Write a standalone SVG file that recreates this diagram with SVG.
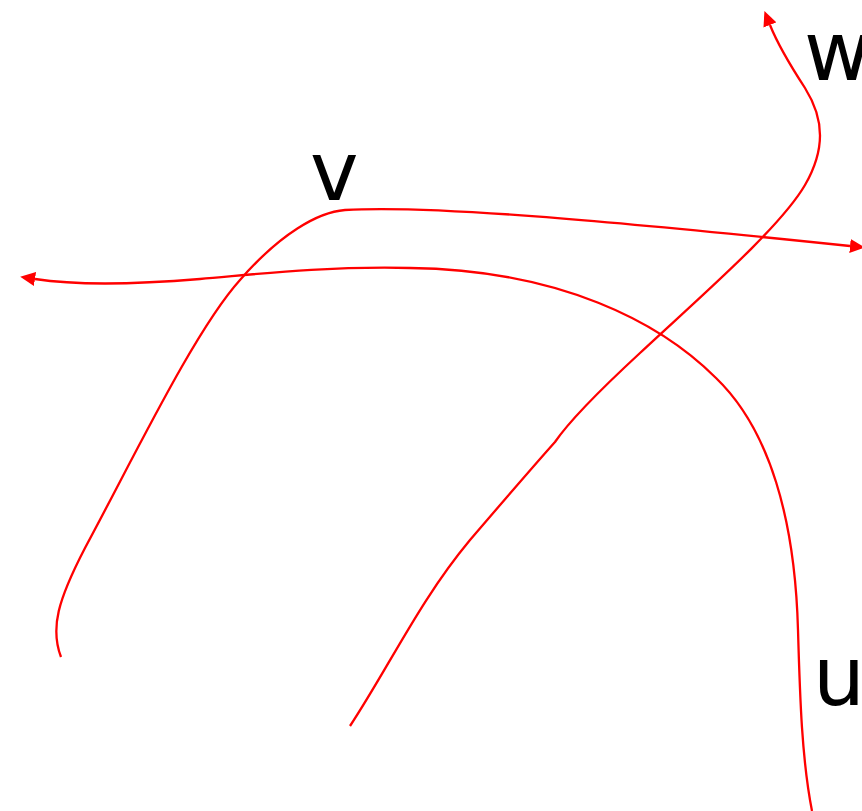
<svg xmlns="http://www.w3.org/2000/svg" width="862" height="811" viewBox="0 0 862 811">
<style>
.c{fill:none;stroke:#ff0000;stroke-width:2.3}
.l{font-family:"DejaVu Sans",sans-serif;font-size:82px;fill:#000}
</style>
<defs>
<marker id="ah" viewBox="0 0 15 14" refX="0" refY="7" markerWidth="15" markerHeight="14" markerUnits="userSpaceOnUse" orient="auto">
<path d="M0,0 L15,7 L0,14 Z" fill="#ff0000"/>
</marker>
</defs>
<rect width="862" height="811" fill="#fff"/>
<g id="connectors">
<path id="e-v" class="c" marker-end="url(#ah)" d="M61,657 C50,628 58,600 85,548 C135,455 195,330 240,280 C280,234 318,212 345,210 C430,205 600,220 850,246"/>
<path id="e-u" class="c" marker-end="url(#ah)" d="M812,811 C802,760 800,700 798,630 C795,520 770,430 716,378 C660,322 560,270 410,268 C320,266 250,275 200,279 C140,284 80,286 35,279"/>
<path id="e-w" class="c" marker-end="url(#ah)" d="M350,726 C390,665 420,600 470,540 C500,505 530,470 555,442 C570,420 600,390 640,353 C700,297 780,228 805,185 C825,150 825,120 805,88 C790,65 778,45 770,25"/>
</g>
<g id="node-v"><text class="l" x="310" y="200">v</text></g>
<g id="node-w"><text class="l" x="804" y="80">w</text></g>
<g id="node-u"><text class="l" x="813" y="705">u</text></g>
</svg>
